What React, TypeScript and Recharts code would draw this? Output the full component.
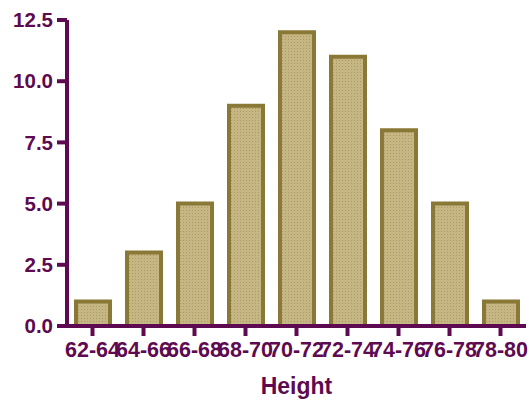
import { BarChart, Bar, XAxis, YAxis } from 'recharts'

const heightRanges = ['62-64', '64-66', '66-68', '68-70', '70-72', '72-74', '74-76', '76-78', '78-80']
const counts = [1, 3, 5, 9, 12, 11, 8, 5, 1]
const yTicks = [0, 2.5, 5, 7.5, 10, 12.5]

const axisColor = '#5e0a50'
const font = '"Liberation Sans", Arial, sans-serif'

const chartData = heightRanges.map((range, i) => ({ range, count: counts[i] }))

export default function App() {
  return (
    <div style={{ position: 'absolute', left: 0, top: 0 }}>
      <BarChart
        width={532}
        height={403}
        data={chartData}
        margin={{ top: 20, right: 6, left: 0, bottom: 0 }}
      >
        <defs>
          <pattern id="dots" width="3" height="3" patternUnits="userSpaceOnUse">
            <rect width="3" height="3" fill="#c6b684" />
            <rect width="1" height="1" fill="#ab9b63" />
          </pattern>
        </defs>
        <XAxis
          dataKey="range"
          height={77}
          interval={0}
          stroke={axisColor}
          strokeWidth={4}
          tickSize={10}
          tickMargin={6}
          tick={{ fill: axisColor, fontSize: 21.5, fontWeight: 'bold', fontFamily: font }}
          label={{
            value: 'Height',
            position: 'insideBottom',
            offset: 9,
            fill: axisColor,
            fontSize: 23,
            fontWeight: 'bold',
            fontFamily: font,
          }}
        />
        <YAxis
          width={67}
          domain={[0, 12.5]}
          ticks={yTicks}
          interval={0}
          stroke={axisColor}
          strokeWidth={4}
          tickSize={10}
          tickMargin={4}
          tickFormatter={(v: number) => v.toFixed(1)}
          tick={{ fill: axisColor, fontSize: 20.5, fontWeight: 'bold', fontFamily: font }}
        />
        <Bar
          dataKey="count"
          barSize={34}
          fill="url(#dots)"
          stroke="#8a7836"
          strokeWidth={4}
          isAnimationActive={false}
        />
      </BarChart>
    </div>
  )
}
